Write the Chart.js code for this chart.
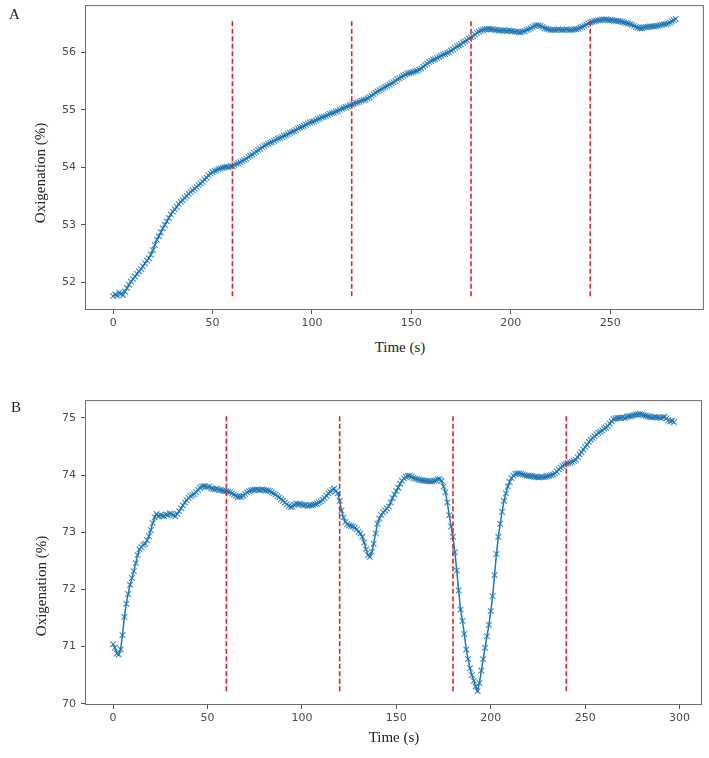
<!DOCTYPE html>
<html>
<head>
<meta charset="utf-8">
<script src="https://cdn.jsdelivr.net/npm/chart.js@4/dist/chart.umd.min.js"></script>
<style>
  body { margin: 0; background: #fff; }
  #wrap { position: relative; width: 709px; height: 758px; background: #fff; overflow: hidden; }
  .panel { position: absolute; left: 0; width: 709px; height: 335px; }
  .txt { position: absolute; font-family: "Liberation Serif", "DejaVu Serif", serif; color: #222; white-space: nowrap; }
  .ylab { font-size: 15px; transform: translate(-50%, -50%) rotate(-90deg); }
  .xlab { font-size: 15px; transform: translate(-50%, -50%); }
  .tag { font-size: 15px; }
</style>
</head>
<body>
<div id="wrap">
  <div class="panel" style="top:0px"><canvas id="chartA" width="709" height="335"></canvas></div>
  <div class="panel" style="top:395px"><canvas id="chartB" width="709" height="335"></canvas></div>

  <div class="txt tag" style="left:9px;top:6px">A</div>
  <div class="txt tag" style="left:11px;top:399px">B</div>
  <div class="txt ylab" style="left:40px;top:173px">Oxigenation (%)</div>
  <div class="txt ylab" style="left:41px;top:586px">Oxigenation (%)</div>
  <div class="txt xlab" style="left:400px;top:347px">Time (s)</div>
  <div class="txt xlab" style="left:394px;top:737px">Time (s)</div>
</div>

<script>
// panel A: one sample per second, t = 0..283 s
const oxyA = [
  51.76, 51.79, 51.77, 51.82, 51.80, 51.78, 51.84, 51.90, 51.96, 52.01,
  52.06, 52.10, 52.15, 52.19, 52.23, 52.28, 52.33, 52.38, 52.42, 52.48,
  52.56, 52.65, 52.74, 52.80, 52.87, 52.94, 53.00, 53.06, 53.12, 53.18,
  53.23, 53.27, 53.31, 53.36, 53.40, 53.43, 53.47, 53.50, 53.54, 53.57,
  53.60, 53.63, 53.66, 53.69, 53.72, 53.75, 53.79, 53.82, 53.86, 53.89,
  53.92, 53.94, 53.95, 53.97, 53.98, 53.99, 54.00, 54.01, 54.00, 54.02,
  54.02, 54.04, 54.06, 54.07, 54.09, 54.11, 54.13, 54.15, 54.18, 54.20,
  54.22, 54.25, 54.27, 54.30, 54.32, 54.35, 54.37, 54.39, 54.41, 54.43,
  54.44, 54.46, 54.48, 54.50, 54.51, 54.53, 54.55, 54.56, 54.58, 54.60,
  54.62, 54.63, 54.65, 54.67, 54.69, 54.70, 54.72, 54.74, 54.76, 54.78,
  54.79, 54.80, 54.82, 54.84, 54.85, 54.87, 54.88, 54.89, 54.91, 54.93,
  54.94, 54.95, 54.97, 54.98, 55.00, 55.02, 55.03, 55.05, 55.06, 55.08,
  55.09, 55.10, 55.12, 55.13, 55.14, 55.16, 55.17, 55.18, 55.20, 55.22,
  55.25, 55.27, 55.30, 55.32, 55.34, 55.36, 55.38, 55.40, 55.42, 55.44,
  55.46, 55.48, 55.50, 55.53, 55.55, 55.57, 55.59, 55.61, 55.63, 55.64,
  55.65, 55.66, 55.67, 55.68, 55.70, 55.72, 55.75, 55.78, 55.80, 55.83,
  55.85, 55.87, 55.88, 55.90, 55.92, 55.94, 55.96, 55.97, 55.99, 56.00,
  56.03, 56.05, 56.08, 56.10, 56.12, 56.14, 56.17, 56.19, 56.21, 56.24,
  56.26, 56.28, 56.31, 56.34, 56.36, 56.38, 56.39, 56.40, 56.40, 56.41,
  56.40, 56.40, 56.39, 56.39, 56.38, 56.38, 56.38, 56.38, 56.37, 56.38,
  56.37, 56.37, 56.36, 56.36, 56.35, 56.35, 56.36, 56.37, 56.39, 56.40,
  56.42, 56.44, 56.46, 56.47, 56.47, 56.46, 56.44, 56.42, 56.41, 56.40,
  56.39, 56.39, 56.39, 56.39, 56.40, 56.39, 56.39, 56.39, 56.40, 56.39,
  56.39, 56.39, 56.40, 56.40, 56.41, 56.43, 56.44, 56.46, 56.48, 56.50,
  56.52, 56.53, 56.54, 56.55, 56.56, 56.56, 56.57, 56.57, 56.57, 56.56,
  56.56, 56.56, 56.55, 56.55, 56.54, 56.54, 56.53, 56.52, 56.51, 56.50,
  56.49, 56.48, 56.46, 56.44, 56.43, 56.42, 56.42, 56.43, 56.44, 56.44,
  56.45, 56.45, 56.45, 56.46, 56.46, 56.47, 56.48, 56.49, 56.49, 56.50,
  56.52, 56.54, 56.56, 56.58
];

// panel B: one sample per second, t = 0..297 s
const oxyB = [
  71.04, 70.98, 70.88, 70.86, 70.95, 71.20, 71.52, 71.75, 71.92, 72.08,
  72.20, 72.32, 72.46, 72.60, 72.70, 72.74, 72.78, 72.80, 72.86, 72.93,
  73.04, 73.16, 73.26, 73.32, 73.28, 73.30, 73.29, 73.28, 73.31, 73.30,
  73.33, 73.32, 73.30, 73.28, 73.32, 73.37, 73.42, 73.47, 73.52, 73.56,
  73.60, 73.63, 73.65, 73.67, 73.70, 73.74, 73.78, 73.80, 73.81, 73.80,
  73.79, 73.80, 73.77, 73.76, 73.75, 73.76, 73.74, 73.74, 73.73, 73.72,
  73.72, 73.71, 73.70, 73.68, 73.66, 73.64, 73.62, 73.62, 73.62, 73.64,
  73.67, 73.70, 73.72, 73.73, 73.74, 73.74, 73.75, 73.74, 73.74, 73.75,
  73.74, 73.73, 73.73, 73.72, 73.70, 73.68, 73.66, 73.63, 73.61, 73.58,
  73.55, 73.52, 73.49, 73.46, 73.44, 73.45, 73.48, 73.50, 73.49, 73.50,
  73.48, 73.47, 73.48, 73.46, 73.47, 73.47, 73.48, 73.49, 73.50, 73.52,
  73.54, 73.57, 73.60, 73.64, 73.68, 73.71, 73.74, 73.76, 73.72, 73.68,
  73.55, 73.38, 73.26, 73.18, 73.14, 73.12, 73.11, 73.10, 73.08, 73.05,
  73.01, 72.98, 72.92, 72.82, 72.70, 72.60, 72.57, 72.66, 72.80, 72.98,
  73.15, 73.24, 73.30, 73.35, 73.38, 73.42, 73.45, 73.52, 73.60, 73.66,
  73.72, 73.78, 73.85, 73.90, 73.94, 73.97, 73.99, 73.99, 73.97, 73.95,
  73.94, 73.93, 73.92, 73.91, 73.91, 73.90, 73.90, 73.89, 73.89, 73.89,
  73.90, 73.91, 73.93, 73.93, 73.90, 73.80, 73.70, 73.52, 73.30, 73.10,
  72.92, 72.65, 72.33, 71.98, 71.65, 71.45, 71.22, 70.95, 70.78, 70.62,
  70.50, 70.40, 70.30, 70.22, 70.36, 70.58, 70.78, 70.98, 71.18, 71.38,
  71.62, 71.88, 72.25, 72.62, 72.92, 73.15, 73.36, 73.55, 73.68, 73.80,
  73.88, 73.95, 73.99, 74.02, 74.03, 74.03, 74.02, 74.01, 74.00, 73.99,
  73.99, 73.98, 73.98, 73.97, 73.97, 73.96, 73.96, 73.97, 73.96, 73.97,
  73.98, 73.99, 74.00, 74.01, 74.03, 74.06, 74.10, 74.13, 74.16, 74.18,
  74.20, 74.21, 74.22, 74.23, 74.25, 74.27, 74.31, 74.36, 74.40, 74.45,
  74.49, 74.53, 74.58, 74.62, 74.65, 74.68, 74.71, 74.74, 74.76, 74.78,
  74.81, 74.83, 74.86, 74.90, 74.94, 74.98, 74.99, 75.00, 75.00, 75.00,
  75.01, 75.00, 75.02, 75.03, 75.03, 75.04, 75.05, 75.06, 75.06, 75.07,
  75.06, 75.05, 75.04, 75.03, 75.02, 75.01, 75.01, 75.02, 75.01, 75.01,
  75.00, 75.01, 75.02, 74.99, 74.96, 74.94, 74.95, 74.93
];

// red dashed markers every 60 s
const stepTimes = [60, 120, 180, 240];

const xTicksA = [0, 50, 100, 150, 200, 250];
const xTicksB = [0, 50, 100, 150, 200, 250, 300];
const yTicksA = [52, 53, 54, 55, 56];
const yTicksB = [70, 71, 72, 73, 74, 75];

// draw the closed box like matplotlib spines
const frame = {
  id: 'frame',
  afterDraw(chart) {
    const a = chart.chartArea, c = chart.ctx;
    c.save();
    c.strokeStyle = '#6e6e6e';
    c.lineWidth = 1;
    c.strokeRect(a.left + 0.5, a.top + 0.5, a.right - a.left - 1, a.bottom - a.top - 1);
    c.restore();
  }
};

function makeChart(id, values, xTicks, yTicks, pad) {
  const lo = Math.min(...values), hi = Math.max(...values);
  const ym = (hi - lo) * 0.05;
  const n = values.length - 1;
  const xm = n * 0.05;

  const series = values.map((v, i) => ({ x: i, y: v }));
  const vlines = stepTimes.map(t => ({
    data: [{ x: t, y: lo }, { x: t, y: hi }],
    borderColor: '#d62728',
    borderWidth: 1.6,
    borderDash: [5, 2.5],
    pointRadius: 0,
    order: 0
  }));

  return new Chart(document.getElementById(id), {
    type: 'line',
    data: {
      datasets: [
        ...vlines,
        {
          label: 'Oxigenation',
          data: series,
          borderColor: '#1f77b4',
          borderWidth: 1.5,
          pointStyle: 'crossRot',
          pointRadius: 4,
          pointBorderWidth: 1.1,
          pointBorderColor: 'rgba(31,119,180,0.85)',
          tension: 0,
          order: 1
        }
      ]
    },
    options: {
      responsive: false,
      animation: false,
      events: [],
      layout: { padding: pad },
      plugins: { legend: { display: false }, tooltip: { enabled: false } },
      scales: {
        x: {
          type: 'linear',
          min: -xm,
          max: n + xm,
          afterBuildTicks: s => { s.ticks = xTicks.map(v => ({ value: v })); },
          afterFit: s => { s.height = 25; s.paddingLeft = 0; s.paddingRight = 0; },
          grid: { drawOnChartArea: false, drawTicks: true, tickLength: 4, color: '#555' },
          border: { display: false },
          ticks: { color: '#4a4a4a', padding: 3, maxRotation: 0, font: { family: 'DejaVu Sans', size: 11 } }
        },
        y: {
          type: 'linear',
          min: lo - ym,
          max: hi + ym,
          afterBuildTicks: s => { s.ticks = yTicks.map(v => ({ value: v })); },
          afterFit: s => { s.width = 85; s.paddingTop = 0; s.paddingBottom = 0; },
          grid: { drawOnChartArea: false, drawTicks: true, tickLength: 4, color: '#555' },
          border: { display: false },
          ticks: { color: '#4a4a4a', padding: 5, font: { family: 'DejaVu Sans', size: 11 } }
        }
      }
    },
    plugins: [frame]
  });
}

makeChart('chartA', oxyA, xTicksA, yTicksA, { left: 0, top: 3, right: 5, bottom: 0 });
makeChart('chartB', oxyB, xTicksB, yTicksB, { left: 0, top: 3, right: 7, bottom: 0 });
</script>
</body>
</html>
